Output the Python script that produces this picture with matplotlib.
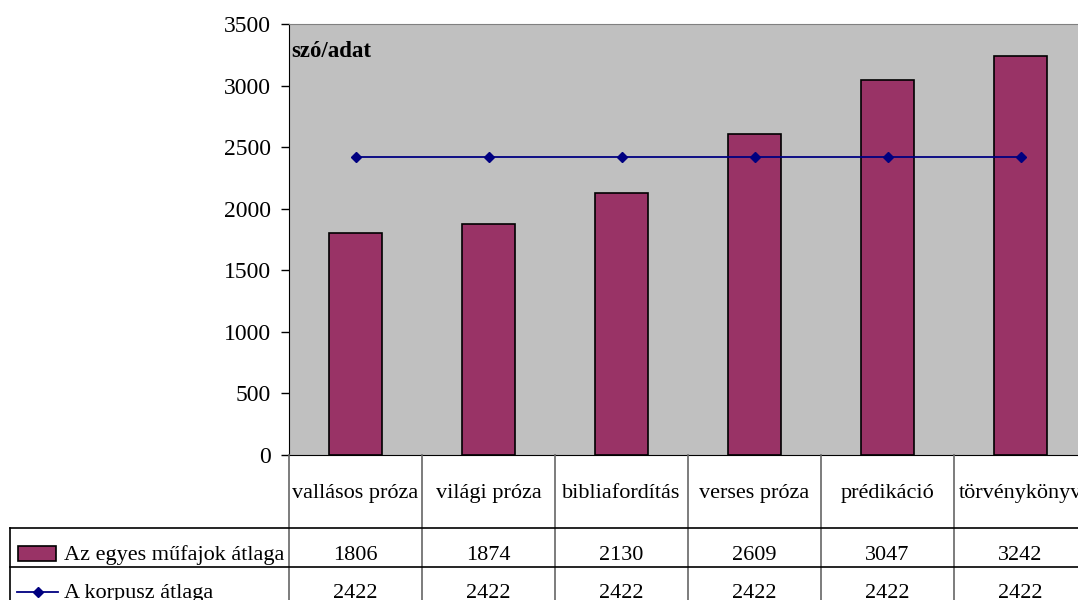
import matplotlib
matplotlib.use("Agg")
import matplotlib.pyplot as plt
from matplotlib.transforms import blended_transform_factory
from matplotlib.patches import Rectangle
from matplotlib.lines import Line2D

categories = ["vallásos próza", "világi próza", "bibliafordítás", "verses próza", "prédikáció", "törvénykönyv"]
genre_avg = [1806, 1874, 2130, 2609, 3047, 3242]
corpus_avg = [2422, 2422, 2422, 2422, 2422, 2422]
series_names = ["Az egyes műfajok átlaga", "A korpusz átlaga"]
y_ticks = [0, 500, 1000, 1500, 2000, 2500, 3000, 3500]

plt.rcParams['font.family'] = ['Liberation Serif', 'DejaVu Serif']

W, H = 1078, 600
fig = plt.figure(figsize=(W/100, H/100), dpi=100)
fig.patch.set_facecolor('white')

def fx(px):
    return px / W
def fy(py):
    return 1 - py / H

left_px, right_px, top_px, bot_px = 289, 1087, 24, 455
ax = fig.add_axes([fx(left_px), fy(bot_px), fx(right_px) - fx(left_px), fy(top_px) - fy(bot_px)])
ax.set_facecolor('#C0C0C0')

x = list(range(len(categories)))
ax.bar(x, genre_avg, width=0.4, color='#993366', edgecolor='black', linewidth=1.2, zorder=2)
ax.plot(x, corpus_avg, color='#000080', linewidth=1.3, marker='D', markersize=5.5, zorder=3)

ax.set_xlim(-0.5, len(categories) - 0.5)
ax.set_ylim(0, 3500)
ax.set_yticks(y_ticks)
ax.set_yticklabels([str(t) for t in y_ticks], fontsize=17)
ax.set_xticks([])
ax.tick_params(axis='y', direction='out', length=6, width=1, pad=7)
ax.spines['right'].set_visible(False)
ax.spines['top'].set_color('#808080')
ax.spines['left'].set_color('black')
ax.spines['bottom'].set_color('black')

ax.text(0.003, 0.96, "szó/adat", transform=ax.transAxes, fontsize=16.5, fontweight='bold',
        ha='left', va='top')

# Data table below the axes
tr = blended_transform_factory(ax.transData, fig.transFigure)
gray = '#666666'
for i in range(len(categories) + 1):
    xb = i - 0.5
    fig.add_artist(Line2D([xb, xb], [fy(455), fy(603)], transform=tr, color=gray, lw=1.2, clip_on=False))
for yl in [528, 567]:
    fig.add_artist(Line2D([fx(10), fx(W + 20)], [fy(yl), fy(yl)], transform=fig.transFigure,
                          color='black', lw=1.2, clip_on=False))
fig.add_artist(Line2D([fx(10), fx(10)], [fy(528), fy(603)], transform=fig.transFigure,
                      color='black', lw=1.2, clip_on=False))

fs = 16
for i, c in enumerate(categories):
    fig.text(i, fy(498), c, transform=tr, ha='center', va='baseline', fontsize=fs)
    fig.text(i, fy(560), str(genre_avg[i]), transform=tr, ha='center', va='baseline', fontsize=fs)
    fig.text(i, fy(598), str(corpus_avg[i]), transform=tr, ha='center', va='baseline', fontsize=fs)

# legend keys inside the table
fig.add_artist(Rectangle((fx(18), fy(561)), fx(56) - fx(18), fy(546) - fy(561),
                         transform=fig.transFigure, facecolor='#993366', edgecolor='black', lw=1.2))
fig.text(fx(64), fy(560), series_names[0], ha='left', va='baseline', fontsize=fs)
fig.add_artist(Line2D([fx(17), fx(58)], [fy(592), fy(592)], transform=fig.transFigure,
                      color='#000080', lw=1.3))
fig.add_artist(Line2D([fx(38)], [fy(592)], transform=fig.transFigure,
                      color='#000080', lw=0, marker='D', markersize=5.5))
fig.text(fx(64), fy(598), series_names[1], ha='left', va='baseline', fontsize=fs)

fig.savefig("out.png", dpi=100)
